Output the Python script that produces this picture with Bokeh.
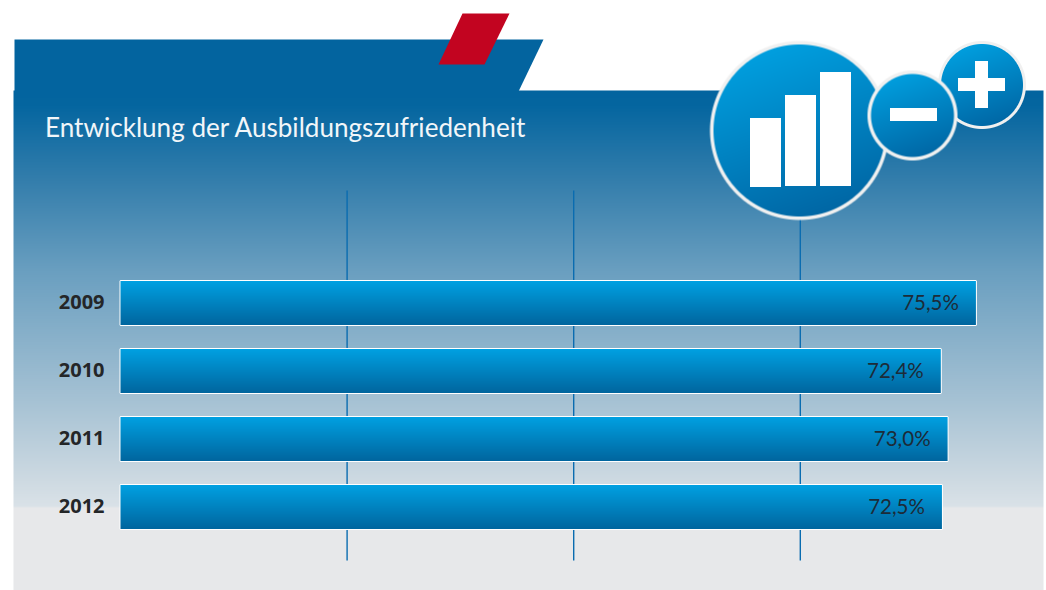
import numpy as np
from bokeh.plotting import figure
from bokeh.models import Range1d
from bokeh.core.properties import value
from bokeh.embed import file_html
from bokeh.resources import INLINE

# ---- chart data
title = "Entwicklung der Ausbildungszufriedenheit"
years = [2009, 2010, 2011, 2012]
year_labels = ["2009", "2010", "2011", "2012"]
satisfaction = [75.5, 72.4, 73.0, 72.5]
value_labels = ["75,5%", "72,4%", "73,0%", "72,5%"]
grid_values = [20, 40, 60]

W, H = 1046, 590
PX_PER_UNIT = 11.33
PX_PER_YEAR = 68.0
X0, Y2009 = 120.0, 302.5      # page pixel of value 0 / of year 2009

p = figure(width=W, height=H, output_backend="svg", toolbar_location=None,
           x_axis_location=None, y_axis_location=None, min_border=0,
           x_range=Range1d(-X0 / PX_PER_UNIT, (W - X0) / PX_PER_UNIT),
           y_range=Range1d(2009 + (H - Y2009) / PX_PER_YEAR, 2009 - Y2009 / PX_PER_YEAR))
p.outline_line_color = None
p.grid.visible = False
p.background_fill_color = "white"
p.border_fill_color = "white"
p.extra_x_ranges = {"px": Range1d(0, W)}
p.extra_y_ranges = {"px": Range1d(0, H)}
PX = dict(x_range_name="px", y_range_name="px")


def Y(r):
    return H - r


def rgba(r, g, b, a):
    out = np.zeros(r.shape, dtype=np.uint32)
    view = out.view(dtype=np.uint8).reshape((*r.shape, 4))
    view[..., 0], view[..., 1], view[..., 2], view[..., 3] = r, g, b, a
    return out


# ---- decoration: banner
p.patch([14, 543, 518, 14], [Y(39), Y(39), Y(91), Y(91)], color="#03649f", line_width=0, **PX)
p.patch([462, 509, 484, 438], [Y(13), Y(13), Y(64), Y(64)], color="#c20420", line_width=0, **PX)

# ---- panel gradient
stop_y = [90, 105, 180, 270, 400, 480, 506, 507, 590]
stop_r = [3, 5, 52, 106, 166, 206, 218, 231, 231]
stop_g = [100, 102, 126, 159, 194, 218, 226, 232, 232]
stop_b = [159, 160, 172, 192, 212, 226, 232, 234, 234]
rows = np.arange(90, 590) + 0.5
r_, g_, b_ = [np.interp(rows, stop_y, s) for s in (stop_r, stop_g, stop_b)]
arr = rgba(r_[:, None], g_[:, None], b_[:, None], np.full((500, 1), 255))[::-1]
p.image_rgba(image=[arr], x=13, y=Y(590), dw=1030, dh=500, **PX)

# ---- gridlines
p.segment(x0=grid_values, x1=grid_values, y0=[Y(190)] * 3, y1=[Y(560)] * 3,
          line_color="#0a6cb0", line_width=1.4, y_range_name="px")

# ---- bars
p.hbar(y=years, left=0, right=satisfaction, height=44 / PX_PER_YEAR,
       fill_color="#0083c2", line_color="white", line_width=2)
t = np.linspace(0, 1, 44)[:, None]
bar_img = rgba(0 + 0 * t, 160 - 58 * t, 225 - 66 * t, np.full((44, 1), 255))
for yr, v in zip(years, satisfaction):
    p.image_rgba(image=[bar_img], x=0, y=yr - 22 / PX_PER_YEAR, dw=v, dh=44 / PX_PER_YEAR)

p.text(x=[0] * 4, y=years, text=year_labels, x_offset=-16, y_offset=-1.5, text_align="right", text_baseline="middle",
       text_font=value("Open Sans"), text_font_style="bold", text_font_size="20px", text_color="#242628")
p.text(x=satisfaction, y=years, text=value_labels, x_offset=-17, y_offset=-1.5, text_align="right", text_baseline="middle",
       text_font=value("Lato"), text_font_size="20.5px", text_color="#1d2b38")
p.text(x=[44.5], y=[Y(126)], text=[title], text_align="left", text_baseline="middle",
       text_font=value("Lato"), text_font_size="26.1px", text_color="#f2f6f9", **PX)


# ---- decoration: icon discs
def disc(cx, cy, r, ring):
    R = int(np.ceil(r)) + 1
    yy, xx = np.mgrid[-R:R, -R:R] + 0.5
    d = np.hypot(xx, yy)
    s = np.clip(((xx * 0.35 + yy) / (r * 1.06) + 1) / 2, 0, 1)
    inner = np.clip(r - ring + 0.5 - d, 0, 1)
    a = np.clip(r + 0.5 - d, 0, 1) * 255
    red = (0 + 0 * s) * inner + 240 * (1 - inner)
    grn = (160 - 58 * s) * inner + 240 * (1 - inner)
    blu = (224 - 60 * s) * inner + 240 * (1 - inner)
    img = rgba(red, grn, blu, a)[::-1]
    p.image_rgba(image=[img], x=cx - R, y=Y(cy + R), dw=2 * R, dh=2 * R, **PX)


def rects(boxes):
    p.quad(left=[b[0] for b in boxes], right=[b[1] for b in boxes],
           top=[Y(b[2]) for b in boxes], bottom=[Y(b[3]) for b in boxes],
           fill_color="white", line_width=0, line_color=None, **PX)


disc(981.5, 84.5, 44, 3)
rects([(957.5, 1004.5, 77.5, 90.5), (974.5, 987.5, 60.5, 107.5)])
disc(799, 130, 89.5, 3.5)
rects([(749.5, 780.5, 117.5, 186.5), (784.5, 815.5, 94.5, 185.5), (819.5, 850.5, 71.5, 185.5)])
disc(912, 115, 45, 3.5)
rects([(889.5, 936.5, 107.5, 120.5)])

open("out.html", "w").write(file_html(p, INLINE))
